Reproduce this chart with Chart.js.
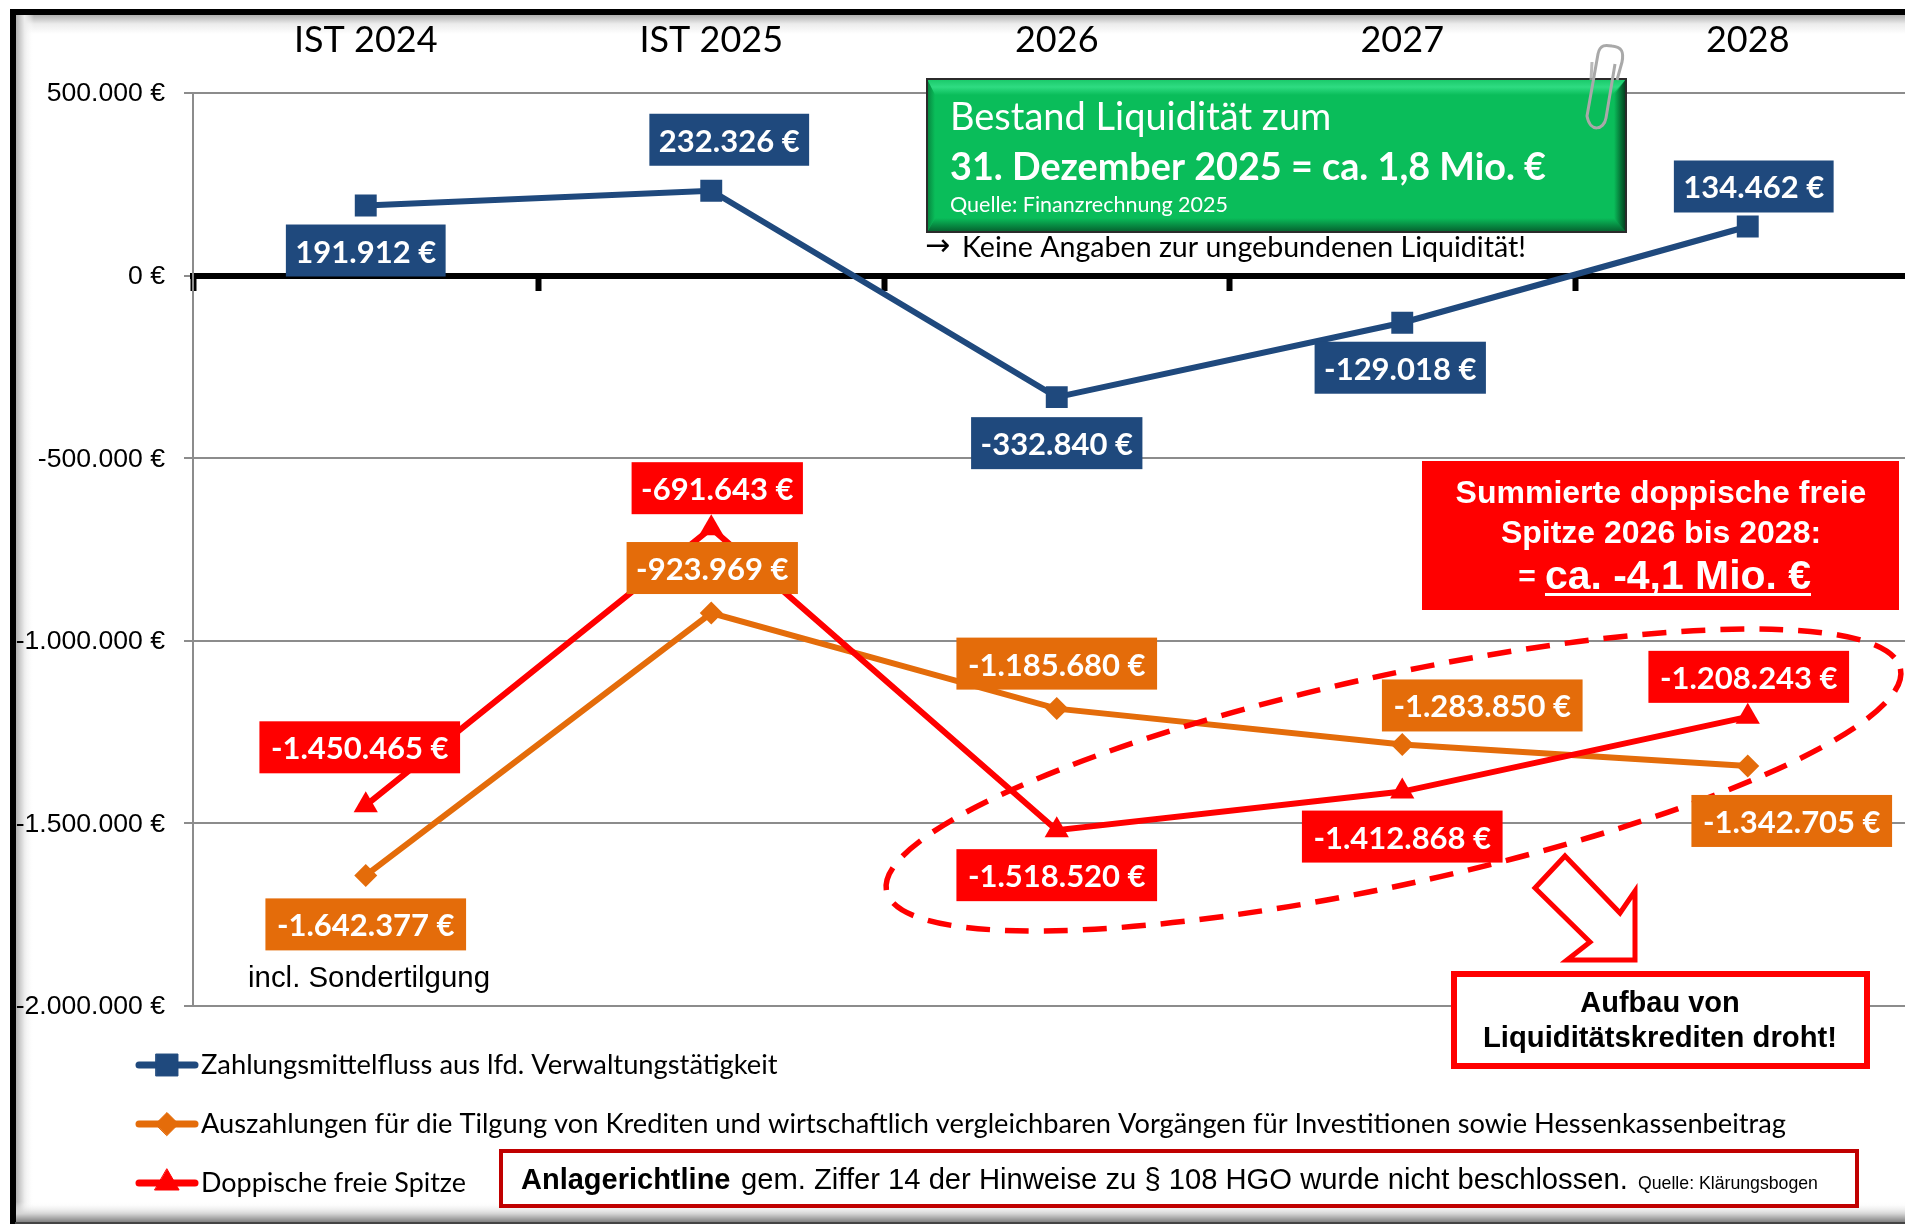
<!DOCTYPE html>
<html lang="de">
<head>
<meta charset="UTF-8">
<title>Liquidität</title>
<script src="https://cdn.jsdelivr.net/npm/chart.js"></script>
<style>
html, body { margin: 0; padding: 0; background: #fff; overflow: hidden; width: 1905px; height: 1224px; }
#wrap { position: absolute; left: 0; top: 0; width: 1905px; height: 1224px; overflow: hidden; }
canvas { display: block; }
</style>
</head>
<body>
<div id="wrap"><canvas id="chart" width="1936" height="1224"></canvas></div>

<script>
const categories = ['IST 2024', 'IST 2025', '2026', '2027', '2028'];
const cashFlow = [191912, 232326, -332840, -129018, 134462];
const repayments = [-1642377, -923969, -1185680, -1283850, -1342705];
const freeMargin = [-1450465, -691643, -1518520, -1412868, -1208243];
const seriesNames = [
    'Zahlungsmittelfluss aus lfd. Verwaltungstätigkeit',
    'Auszahlungen für die Tilgung von Krediten und wirtschaftlich vergleichbaren Vorgängen für Investitionen sowie Hessenkassenbeitrag',
    'Doppische freie Spitze'
];
const seriesColors = ['#1F497D', '#E46C0A', '#FF0000'];

// label box centre relative to its point, px
const labelOffsets = [
    [[0, 45], [18, -51], [0, 46], [-2, 45], [6, -40]],
    [[0, 49], [1, -45], [0, -45], [80, -39], [44, 55]],
    [[-6, -58], [6, -40], [0, 45], [0, 45], [1, -40]]
];
const legendRows = [1065, 1124, 1183];
const legendWidths = [579, 1585, 265];

const SANS = '"Liberation Sans", Arial, sans-serif';
const CAL = 'Lato, sans-serif';

function euro(v) {
    return v.toLocaleString('de-DE') + ' €';
}

function text(ctx, str, x, y, font, color, align, maxW) {
    ctx.font = font;
    ctx.fillStyle = color;
    ctx.textAlign = align || 'left';
    ctx.textBaseline = 'middle';
    if (maxW) ctx.fillText(str, x, y, maxW);
    else ctx.fillText(str, x, y);
}

const framePlugin = {
    id: 'frame',
    beforeDraw(chart) {
        const ctx = chart.ctx;
        ctx.save();
        // inner shadow of the picture frame
        let g = ctx.createLinearGradient(0, 14, 0, 34);
        g.addColorStop(0, '#aaaaaa');
        g.addColorStop(0.5, '#ececec');
        g.addColorStop(1, '#ffffff');
        ctx.fillStyle = g;
        ctx.fillRect(15, 14, 1921, 20);
        g = ctx.createLinearGradient(15, 0, 34, 0);
        g.addColorStop(0, 'rgba(170,170,170,1)');
        g.addColorStop(0.5, 'rgba(236,236,236,1)');
        g.addColorStop(1, 'rgba(255,255,255,0)');
        ctx.fillStyle = g;
        ctx.fillRect(15, 14, 19, 1208);
        g = ctx.createLinearGradient(0, 1202, 0, 1222);
        g.addColorStop(0, 'rgba(255,255,255,0)');
        g.addColorStop(0.6, 'rgba(210,210,210,1)');
        g.addColorStop(1, 'rgba(130,130,130,1)');
        ctx.fillStyle = g;
        ctx.fillRect(15, 1202, 1921, 20);
        ctx.fillStyle = '#000';
        ctx.fillRect(10, 9, 1926, 6);
        ctx.fillRect(10, 9, 6, 1215);
        ctx.fillStyle = '#444';
        ctx.fillRect(15, 1222, 1921, 2);
        ctx.restore();
    }
};

function drawGreenBox(ctx) {
    const x = 927, y = 79, w = 699, h = 153;
    ctx.fillStyle = '#0ABD5A';
    ctx.fillRect(x, y, w, h);
    // bevel
    let g = ctx.createLinearGradient(0, y, 0, y + 16);
    g.addColorStop(0, '#18C868');
    g.addColorStop(0.5, '#2FDC82');
    g.addColorStop(1, '#0ABD5A');
    ctx.fillStyle = g;
    ctx.beginPath();
    ctx.moveTo(x, y); ctx.lineTo(x + w, y); ctx.lineTo(x + w - 14, y + 16); ctx.lineTo(x + 8, y + 16);
    ctx.closePath(); ctx.fill();
    g = ctx.createLinearGradient(0, y + h - 14, 0, y + h);
    g.addColorStop(0, '#0ABD5A');
    g.addColorStop(1, '#055E2D');
    ctx.fillStyle = g;
    ctx.beginPath();
    ctx.moveTo(x + 8, y + h - 14); ctx.lineTo(x + w - 10, y + h - 14); ctx.lineTo(x + w, y + h); ctx.lineTo(x, y + h);
    ctx.closePath(); ctx.fill();
    g = ctx.createLinearGradient(x + w - 12, 0, x + w, 0);
    g.addColorStop(0, '#0ABD5A');
    g.addColorStop(1, '#03391B');
    ctx.fillStyle = g;
    ctx.beginPath();
    ctx.moveTo(x + w, y); ctx.lineTo(x + w, y + h); ctx.lineTo(x + w - 12, y + h - 14); ctx.lineTo(x + w - 12, y + 16);
    ctx.closePath(); ctx.fill();
    g = ctx.createLinearGradient(x, 0, x + 8, 0);
    g.addColorStop(0, '#06823D');
    g.addColorStop(1, '#0ABD5A');
    ctx.fillStyle = g;
    ctx.beginPath();
    ctx.moveTo(x, y); ctx.lineTo(x + 8, y + 16); ctx.lineTo(x + 8, y + h - 14); ctx.lineTo(x, y + h);
    ctx.closePath(); ctx.fill();
    ctx.strokeStyle = '#2B2B2B';
    ctx.lineWidth = 2;
    ctx.strokeRect(x, y, w, h);

    text(ctx, 'Bestand Liquidität zum', 950, 118, '38px ' + CAL, '#fff', 'left', 382);
    text(ctx, '31. Dezember 2025 = ca. 1,8 Mio. €', 950, 168, 'bold 38px ' + CAL, '#fff', 'left', 596);
    text(ctx, 'Quelle: Finanzrechnung 2025', 950, 205, '21.6px ' + CAL, '#fff', 'left', 278);
    text(ctx, '→', 925, 247, '30px "DejaVu Sans"', '#000', 'left', 28);
    text(ctx, 'Keine Angaben zur ungebundenen Liquidität!', 962, 248, '28.6px ' + CAL, '#000', 'left', 565);

    // paper clip
    ctx.strokeStyle = '#A9A9A9';
    ctx.lineWidth = 3;
    ctx.lineJoin = 'round';
    ctx.beginPath();
    ctx.moveTo(1615, 64);
    ctx.lineTo(1606, 118);
    ctx.bezierCurveTo(1604, 130, 1590, 133, 1587, 116);
    ctx.lineTo(1598, 54);
    ctx.bezierCurveTo(1600, 44, 1606, 45, 1612, 46);
    ctx.bezierCurveTo(1622, 47, 1624, 52, 1622, 62);
    ctx.lineTo(1617, 80);
    ctx.stroke();
    ctx.strokeStyle = 'rgba(169,169,169,0.8)';
    ctx.beginPath();
    ctx.moveTo(1592, 62);
    ctx.lineTo(1591, 80);
    ctx.stroke();
}

function drawCallouts(ctx) {
    ctx.fillStyle = '#FF0000';
    ctx.fillRect(1422, 461, 477, 149);
    text(ctx, 'Summierte doppische freie', 1661, 494, 'bold 32px ' + SANS, '#fff', 'center', 413);
    text(ctx, 'Spitze 2026 bis 2028:', 1661, 534, 'bold 32px ' + SANS, '#fff', 'center');
    text(ctx, '=', 1527, 578, 'bold 30px ' + SANS, '#fff', 'center');
    text(ctx, 'ca. -4,1 Mio. €', 1545, 578, 'bold 41px ' + SANS, '#fff', 'left', 266);
    ctx.fillStyle = '#fff';
    ctx.fillRect(1545, 593, 266, 3);

    // hollow arrow
    ctx.beginPath();
    [[1565, 856], [1620, 913], [1635, 891], [1635, 960], [1567, 960], [1590, 942], [1535, 888]].forEach((p, i) => {
        if (i) ctx.lineTo(p[0], p[1]); else ctx.moveTo(p[0], p[1]);
    });
    ctx.closePath();
    ctx.fillStyle = '#fff';
    ctx.fill();
    ctx.strokeStyle = '#FF0000';
    ctx.lineWidth = 5;
    ctx.lineJoin = 'miter';
    ctx.stroke();

    ctx.fillStyle = '#fff';
    ctx.fillRect(1454, 974, 413, 92);
    ctx.strokeStyle = '#FF0000';
    ctx.lineWidth = 6;
    ctx.strokeRect(1454, 974, 413, 92);
    text(ctx, 'Aufbau von', 1660, 1004, 'bold 29px ' + SANS, '#000', 'center');
    text(ctx, 'Liquiditätskrediten droht!', 1660, 1039, 'bold 29.3px ' + SANS, '#000', 'center', 354);

    ctx.fillStyle = '#fff';
    ctx.fillRect(501, 1151, 1356, 55);
    ctx.strokeStyle = '#C00000';
    ctx.lineWidth = 4;
    ctx.strokeRect(501, 1151, 1356, 55);
    text(ctx, 'Anlagerichtline', 521, 1181, 'bold 29px ' + SANS, '#000', 'left', 212);
    text(ctx, 'gem. Ziffer 14 der Hinweise zu § 108 HGO wurde nicht beschlossen.', 741, 1181, '29.2px ' + SANS, '#000', 'left', 888);
    text(ctx, 'Quelle: Klärungsbogen', 1638, 1184, '17.7px ' + SANS, '#000', 'left', 181);

    text(ctx, 'incl. Sondertilgung', 248, 979, '29.5px ' + SANS, '#000', 'left', 242);
}

function drawLegend(chart) {
    const ctx = chart.ctx;
    chart.data.datasets.forEach((ds, i) => {
        const y = legendRows[i];
        ctx.save();
        ctx.strokeStyle = ds.borderColor;
        ctx.lineWidth = 7;
        ctx.lineCap = 'round';
        ctx.beginPath();
        ctx.moveTo(139, y);
        ctx.lineTo(195, y);
        ctx.stroke();
        ctx.fillStyle = ds.borderColor;
        ctx.strokeStyle = ds.borderColor;
        ctx.lineWidth = 1;
        Chart.helpers.drawPoint(ctx, { pointStyle: ds.pointStyle, radius: ds.pointRadius, rotation: 0, borderWidth: 1 }, 167, y);
        ctx.restore();
        ctx.save();
        text(ctx, ds.label, 201, y, '27.3px ' + CAL, '#000', 'left', legendWidths[i]);
        ctx.restore();
    });
}

const overlayPlugin = {
    id: 'overlay',
    afterDatasetsDraw(chart) {
        const ctx = chart.ctx;
        ctx.save();
        drawGreenBox(ctx);
        ctx.restore();

        ctx.save();
        // dashed ring around the 2026-2028 values
        ctx.strokeStyle = '#FF0000';
        ctx.lineWidth = 5.5;
        ctx.setLineDash([24, 15]);
        ctx.beginPath();
        ctx.ellipse(1393.5, 780, 519, 104.5, -12.38 * Math.PI / 180, 0, Math.PI * 2);
        ctx.stroke();
        ctx.restore();

        ctx.save();
        drawCallouts(ctx);
        ctx.restore();

        // value labels, on top of lines and ring
        chart.data.datasets.forEach((ds, i) => {
            const meta = chart.getDatasetMeta(i);
            ctx.save();
            meta.data.forEach((pt, j) => {
                const label = euro(ds.data[j]);
                const cx = pt.x + labelOffsets[i][j][0];
                const cy = pt.y + labelOffsets[i][j][1];
                ctx.font = 'bold 31px ' + CAL;
                const w = ctx.measureText(label).width + (Math.abs(ds.data[j]) >= 1000000 ? 23 : 19);
                ctx.fillStyle = ds.borderColor;
                ctx.fillRect(cx - w / 2, cy - 26, w, 52);
                text(ctx, label, cx, cy + 2, 'bold 31px ' + CAL, '#fff', 'center');
            });
            ctx.restore();
        });

        drawLegend(chart);
    }
};

new Chart(document.getElementById('chart'), {
    type: 'line',
    data: {
        labels: categories,
        datasets: [
            { label: seriesNames[0], data: cashFlow, borderColor: seriesColors[0], backgroundColor: seriesColors[0], pointStyle: 'rect', pointRadius: 15.5, order: 3 },
            { label: seriesNames[1], data: repayments, borderColor: seriesColors[1], backgroundColor: seriesColors[1], pointStyle: 'rectRot', pointRadius: 11.5, order: 2 },
            { label: seriesNames[2], data: freeMargin, borderColor: seriesColors[2], backgroundColor: seriesColors[2], pointStyle: 'triangle', pointRadius: 14, order: 1 }
        ]
    },
    options: {
        responsive: false,
        animation: false,
        layout: { padding: { left: 0, right: 0, top: 0, bottom: 218 } },
        elements: {
            line: { borderWidth: 6, tension: 0, borderCapStyle: 'butt' },
            point: { borderWidth: 0, hoverRadius: 14 }
        },
        plugins: { legend: { display: false }, tooltip: { enabled: false } },
        scales: {
            x: {
                type: 'category',
                position: { y: 0 },
                offset: true,
                border: { color: '#000', width: 6 },
                grid: { offset: true, drawOnChartArea: false, tickLength: 12, tickWidth: 6, tickColor: '#000' },
                ticks: { display: false }
            },
            top: {
                type: 'category',
                position: 'top',
                labels: categories,
                offset: true,
                afterFit(scale) { scale.height = 93; },
                border: { display: false },
                grid: { display: false, drawTicks: false },
                ticks: { font: { family: 'Lato', size: 36 }, color: '#000', padding: 31, maxRotation: 0 }
            },
            y: {
                min: -2000000,
                max: 500000,
                afterFit(scale) { scale.width = 193; },
                afterBuildTicks(scale) {
                    scale.ticks = scale.ticks.filter(t => t.value % 500000 === 0);
                },
                border: { color: '#8C8C8C', width: 2 },
                grid: { color: '#8C8C8C', lineWidth: 2, tickLength: 9 },
                ticks: {
                    stepSize: 500000,
                    padding: 19,
                    labelOffset: 1,
                    color: '#000',
                    font: { family: 'Liberation Sans', size: 26.6 },
                    callback: v => euro(v)
                }
            }
        }
    },
    plugins: [framePlugin, overlayPlugin]
});
</script>
</body>
</html>
